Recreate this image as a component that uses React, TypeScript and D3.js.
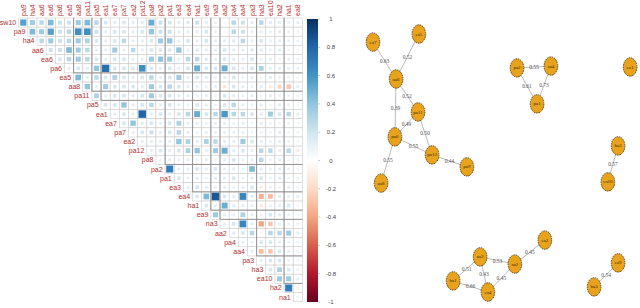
import React from 'react';
import * as d3 from 'd3';

// variable order after hclust (rows) and the shifted column order (diag hidden)
const rowLabels = ['sw10', 'pa9', 'ha4', 'aa6', 'ea6', 'pa6', 'ea5', 'aa8', 'pa11', 'pa5', 'ea1', 'ea7', 'pa7', 'ea2', 'pa12', 'pa8', 'pa2', 'pa1', 'ea3', 'ea4', 'ha1', 'ea9', 'na3', 'aa2', 'pa4', 'aa4', 'pa3', 'ha3', 'ea10', 'ha2', 'na1'];
const colLabels = ['pa9', 'ha4', 'aa6', 'ea6', 'pa6', 'ea5', 'aa8', 'pa11', 'pa5', 'ea1', 'ea7', 'pa7', 'ea2', 'pa12', 'pa8', 'pa2', 'pa1', 'ea3', 'ea4', 'ha1', 'ea9', 'na3', 'aa2', 'pa4', 'aa4', 'pa3', 'ha3', 'ea10', 'ha2', 'na1', 'ea8'];

// upper triangle, row i holds columns i..30
const corrRows = [
  [0.55, 0.36, 0.28, 0.45, 0.22, 0.22, 0.36, 0.45, 0.28, 0.18, 0.12, 0.18, 0.12, 0.12, 0.5, 0.22, 0.2, 0.12, 0.15, 0.22, 0.12, 0.1, 0.06, 0.28, 0.22, 0.12, 0.28, 0.12, 0.12, 0.1, 0.12],
  [0.45, 0.36, 0.55, 0.22, 0.28, 0.62, 0.62, 0.22, 0.12, 0.18, 0.18, 0.12, 0.18, 0.4, 0.22, 0.22, 0.12, 0.12, 0.12, 0.18, 0.1, 0.06, 0.28, 0.22, 0.12, 0.12, 0.1, 0.12, 0.1, 0.08],
  [0.28, 0.36, 0.22, 0.28, 0.36, 0.32, 0.18, 0.12, 0.18, 0.28, 0.12, 0.12, 0.18, 0.36, 0.4, 0.12, 0.18, 0.12, 0.18, 0.12, 0.12, 0.15, 0.28, 0.12, 0.18, 0.1, 0.12, 0.1, 0.1],
  [0.22, 0.22, 0.45, 0.36, 0.28, 0.12, 0.12, 0.36, 0.12, 0.28, 0.12, 0.18, 0.18, 0.18, 0.4, 0.12, 0.15, 0.12, 0.12, 0.18, 0.12, 0.12, 0.15, 0.12, 0.1, 0.12, 0.08, 0.08],
  [0.18, 0.28, 0.36, 0.28, 0.18, 0.12, 0.18, 0.18, 0.12, 0.12, 0.36, 0.4, 0.36, 0.12, 0.28, 0.28, 0.15, 0.12, 0.18, 0.12, 0.12, 0.18, 0.1, 0.12, 0.08, 0.12, 0.1],
  [0.12, 0.18, 0.12, 0.4, 0.75, 0.18, 0.18, 0.18, 0.62, 0.18, 0.12, 0.18, 0.12, 0.18, 0.5, 0.18, 0.18, 0.5, 0.18, 0.12, 0.18, 0.32, 0.12, 0.12, 0.12, 0.1],
  [0.45, 0.12, 0.28, 0.18, 0.32, 0.18, 0.12, 0.18, 0.28, 0.12, 0.18, 0.36, 0.12, 0.18, 0.12, 0.1, 0.12, 0.18, 0.1, 0.12, 0.08, 0.12, 0.1, 0.1, 0.08],
  [0.4, 0.12, 0.36, 0.18, 0.18, 0.18, 0.12, 0.36, 0.18, 0.28, 0.18, 0.12, 0.12, 0.1, 0.12, -0.15, 0.18, 0.12, 0.1, 0.12, -0.12, -0.22, -0.28, 0.12],
  [0.32, 0.12, 0.18, 0.18, 0.12, 0.18, 0.36, 0.18, 0.18, 0.12, 0.12, 0.1, 0.12, 0.1, 0.18, 0.12, 0.1, 0.12, 0.08, 0.12, 0.1, 0.08, 0.1],
  [0.18, 0.18, 0.4, 0.12, 0.18, 0.28, 0.12, 0.18, 0.12, 0.1, 0.18, 0.12, 0.1, 0.18, 0.28, 0.12, 0.1, 0.12, 0.08, 0.12, 0.1, 0.08],
  [0.12, 0.18, 0.12, 0.8, 0.12, 0.18, 0.12, 0.18, 0.28, 0.5, 0.18, 0.28, 0.58, 0.28, 0.28, 0.18, 0.12, 0.36, 0.18, 0.28, 0.12],
  [0.18, 0.4, 0.12, 0.18, 0.12, 0.18, 0.32, 0.12, 0.12, 0.1, 0.12, 0.12, 0.1, 0.12, 0.08, 0.12, 0.1, 0.08, 0.1, 0.08],
  [0.12, 0.18, 0.22, 0.12, 0.18, 0.28, 0.12, 0.1, 0.12, 0.1, 0.12, 0.1, 0.12, 0.08, 0.1, 0.08, 0.12, 0.08, 0.08],
  [0.12, 0.12, 0.12, 0.12, 0.4, 0.32, 0.12, 0.32, 0.28, 0.12, 0.12, 0.36, 0.18, 0.12, 0.1, 0.12, 0.1, 0.08],
  [0.12, 0.18, 0.12, 0.18, 0.32, 0.4, 0.12, 0.36, 0.5, 0.12, 0.18, 0.12, 0.28, 0.28, 0.12, 0.28, -0.12],
  [0.1, 0.12, 0.1, 0.12, 0.1, 0.12, 0.1, 0.12, 0.18, 0.1, 0.12, 0.28, 0.1, 0.12, 0.08, 0.1],
  [0.7, 0.12, 0.12, 0.18, 0.12, 0.18, 0.12, 0.12, 0.1, 0.45, 0.12, 0.1, 0.12, 0.1, 0.08],
  [0.18, 0.1, 0.12, 0.1, 0.12, 0.12, 0.18, 0.1, 0.12, 0.18, 0.1, 0.12, 0.08, 0.1],
  [0.12, 0.18, 0.12, 0.1, 0.12, 0.1, 0.12, 0.18, -0.12, 0.1, 0.08, 0.12, 0.08],
  [0.18, 0.45, 0.85, 0.18, 0.12, 0.66, 0.12, -0.36, -0.32, 0.12, 0.1, 0.12],
  [0.18, 0.12, 0.5, 0.12, 0.12, 0.1, -0.12, 0.1, 0.12, 0.18, 0.08],
  [0.36, 0.12, 0.1, 0.32, 0.12, 0.1, 0.18, 0.12, 0.1, 0.08],
  [0.12, 0.18, 0.66, 0.12, -0.4, -0.28, 0.12, 0.1, 0.1],
  [0.12, 0.18, 0.28, 0.06, 0.28, 0.28, 0.36, 0.12],
  [0.12, 0.1, 0.18, 0.18, 0.12, 0.1, 0.1],
  [0.12, -0.32, -0.28, 0.18, 0.12, 0.1],
  [0.12, 0.18, 0.18, 0.1, 0.1],
  [0.18, 0.32, 0.18, 0.1],
  [0.36, 0.36, 0.12],
  [0.7, 0.1],
  [0.08],
];

// cluster cut points (addrect)
const clusterBreaks = [6, 8, 9, 16, 19, 21, 22, 26, 29];
const legendTicks = [1, 0.8, 0.6, 0.4, 0.2, 0, -0.2, -0.4, -0.6, -0.8, -1];
const rdbu = ['#67001F', '#B2182B', '#D6604D', '#F4A582', '#FDDBC7', '#FFFFFF', '#D1E5F0', '#92C5DE', '#4393C3', '#2166AC', '#053061'];

// network (layout units 0-100)
const nodeNames = ['ea7', 'ea5', 'aa6', 'pa11', 'pa6', 'pa12', 'pa9', 'aa8', 'pa2', 'aa4', 'pa1', 'ea1', 'ha2', 'ea10', 'ea3', 'aa2', 'aa3', 'ha1', 'ea4', 'ea9', 'ha3'];
const nodeX = [11, 26.3, 18.7, 26, 18.3, 30.7, 42.3, 13.7, 59, 70.3, 65.7, 96.7, 92.7, 89.3, 68.3, 58.3, 46.7, 37.7, 49.3, 92.7, 84.7];
const nodeY = [10.7, 8, 23, 34, 42.3, 48.3, 52.3, 57.7, 19.3, 18.7, 31.3, 19, 45.3, 57.3, 76.7, 84.7, 82.3, 90.3, 94, 84.3, 92.3];
const edgeFrom = ['ea7', 'ea5', 'aa6', 'aa6', 'pa11', 'pa11', 'pa6', 'pa12', 'pa6', 'pa2', 'pa2', 'aa4', 'ha2', 'ea3', 'aa3', 'aa3', 'aa3', 'ha1', 'aa2', 'ea9'];
const edgeTo = ['aa6', 'aa6', 'pa11', 'pa6', 'pa6', 'pa12', 'pa12', 'pa9', 'aa8', 'aa4', 'pa1', 'pa1', 'ea10', 'aa2', 'aa2', 'ha1', 'ea4', 'ea4', 'ea4', 'ha3'];
const edgeWeight = [0.63, 0.52, 0.52, 0.39, 0.49, 0.5, 0.55, 0.44, 0.55, 0.55, 0.61, 0.73, 0.57, 0.45, 0.53, 0.51, 0.43, 0.66, 0.45, 0.54];

const App = () => {
  const x = d3.scaleBand().domain(colLabels).range([18.7, 302.4]);
  const y = d3.scaleBand().domain(rowLabels).range([18, 301.7]);
  const bw = x.bandwidth();
  const color = d3.scaleLinear<string>().domain(legendTicks.slice().reverse()).range(rdbu);
  const legendY = d3.scaleLinear().domain([-1, 1]).range([302, 19]);

  const xN = d3.scaleLinear().domain([0, 100]).range([340, 640]);
  const yN = d3.scaleLinear().domain([0, 100]).range([10, 310]);
  const idx = (n) => nodeNames.indexOf(n);

  const cells = [];
  corrRows.forEach((row, i) => {
    row.forEach((v, k) => {
      const j = i + k;
      cells.push({ i, j, v, cx: x(colLabels[j]), cy: y(rowLabels[i]) });
    });
  });

  const left = x.range()[0];
  const right = x.range()[1];
  const top = y.range()[0];
  const labelCol = '#b3302c';

  return (
    <svg width={640} height={308} style={{ position: 'absolute', left: 0, top: 0, background: '#fff' }}
      fontFamily="'Liberation Sans', Arial, sans-serif">
      <defs>
        <linearGradient id="cbar" x1="0" y1="1" x2="0" y2="0">
          {legendTicks.slice().reverse().map((t, i) => (
            <stop key={i} offset={`${(t + 1) * 50}%`} stopColor={color(t)} />
          ))}
        </linearGradient>
      </defs>

      {/* grid */}
      {cells.map((c, n) => (
        <rect key={'g' + n} x={c.cx} y={c.cy} width={bw} height={bw} fill="#fff" stroke="#cccccc" strokeWidth={0.6} />
      ))}
      {/* squares */}
      {cells.map((c, n) => {
        const s = Math.sqrt(Math.abs(c.v)) * bw * 0.92;
        return <rect key={'s' + n} x={c.cx + (bw - s) / 2} y={c.cy + (bw - s) / 2} width={s} height={s} fill={color(c.v)} />;
      })}
      {/* cluster lines */}
      {clusterBreaks.map((k) => (
        <g key={'b' + k} stroke="#8a8a8a" strokeWidth={0.9}>
          <line x1={left + k * bw} x2={left + k * bw} y1={top} y2={top + k * bw} />
          <line x1={left + k * bw} x2={right} y1={top + k * bw} y2={top + k * bw} />
        </g>
      ))}

      {/* row labels */}
      {rowLabels.map((r, i) => (
        <text key={'r' + r} x={x(colLabels[i]) - 2.5} y={y(r) + bw / 2} textAnchor="end" dominantBaseline="central"
          fontSize={7} fill={labelCol}>{r}</text>
      ))}
      {/* column labels */}
      {colLabels.map((c) => (
        <text key={'c' + c} transform={`translate(${x(c) + bw / 2},${top - 2}) rotate(-90)`} textAnchor="start"
          dominantBaseline="central" fontSize={7} fill={labelCol}>{c}</text>
      ))}

      {/* colour bar */}
      <rect x={307} y={legendY(1)} width={11} height={legendY(-1) - legendY(1)} fill="url(#cbar)" />
      {legendTicks.map((t) => (
        <g key={'t' + t}>
          <line x1={318} x2={320} y1={legendY(t)} y2={legendY(t)} stroke="#999" strokeWidth={0.5} />
          <text x={331} y={legendY(t)} textAnchor="middle" dominantBaseline="central" fontSize={6} fill="#444">{t}</text>
        </g>
      ))}

      {/* network */}
      <g fontFamily="'Liberation Serif', 'DejaVu Serif', serif">
        {edgeFrom.map((f, e) => {
          const a = idx(f);
          const b = idx(edgeTo[e]);
          return (
            <line key={'e' + e} x1={xN(nodeX[a])} y1={yN(nodeY[a])} x2={xN(nodeX[b])} y2={yN(nodeY[b])}
              stroke="#a8a8a8" strokeWidth={0.8} />
          );
        })}
        {edgeFrom.map((f, e) => {
          const a = idx(f);
          const b = idx(edgeTo[e]);
          return (
            <text key={'el' + e} x={(xN(nodeX[a]) + xN(nodeX[b])) / 2} y={(yN(nodeY[a]) + yN(nodeY[b])) / 2}
              textAnchor="middle" dominantBaseline="central" fontSize={5.5} fill="#555">{edgeWeight[e].toFixed(2)}</text>
          );
        })}
        {nodeNames.map((n, i) => (
          <g key={'n' + n}>
            <ellipse cx={xN(nodeX[i])} cy={yN(nodeY[i])} rx={6.8} ry={9.2} fill="#E8A21C" stroke="#3b2b05"
              strokeWidth={0.8} strokeDasharray="1.6,0.8" />
            <text x={xN(nodeX[i])} y={yN(nodeY[i])} textAnchor="middle" dominantBaseline="central" fontSize={5}
              fill="#3a2a10">{n}</text>
          </g>
        ))}
      </g>
    </svg>
  );
};

export default App;
